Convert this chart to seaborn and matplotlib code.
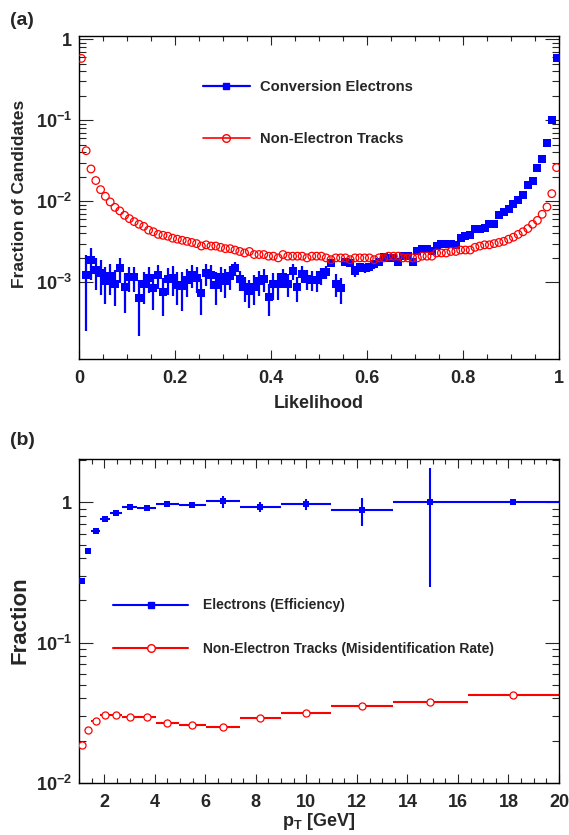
import numpy as np
import matplotlib
matplotlib.use('Agg')
import matplotlib.pyplot as plt
import seaborn as sns
from matplotlib.lines import Line2D
from matplotlib.ticker import FixedLocator, MultipleLocator, FuncFormatter, NullFormatter

# %% data: panel (a), likelihood distribution (100 bins of 0.01)
likelihood_bins = np.arange(100) * 0.01 + 0.005

conv_frac = [
    np.nan, 0.00122, 0.00187, 0.00141, 0.00130, 0.00104, 0.00120, 0.00096, 0.00148, 0.00087,
    0.00116, 0.00116, 0.00064, 0.00094, 0.00113, 0.00085, 0.00122, 0.00076, 0.00109, 0.00113,
    0.00093, 0.00089, 0.00106, 0.00124, 0.00113, 0.00074, 0.00130, 0.00122, 0.00093, 0.00116,
    0.00104, 0.00120, 0.00148, 0.00109, 0.00087, 0.00078, 0.00087, 0.00103, 0.00111, 0.00066,
    0.00096, 0.00096, 0.00116, 0.00096, 0.00137, 0.00087, 0.00128, 0.00111, 0.00108, 0.00106,
    0.00122, 0.00134, 0.00175, 0.00096, 0.00084, 0.00178, 0.00175, 0.00137, 0.00155, 0.00150,
    0.00155, 0.00166, 0.00178, 0.00206, 0.00200, 0.00202, 0.00178, 0.00211, 0.00211, 0.00178,
    0.00241, 0.00260, 0.00260, 0.00240, 0.00280, 0.00300, 0.00300, 0.00300, 0.00290, 0.00350,
    0.00370, 0.00380, 0.00450, 0.00450, 0.00470, 0.00530, 0.00530, 0.00670, 0.00740, 0.00800,
    0.00920, 0.01050, 0.01190, 0.01600, 0.01800, 0.02540, 0.03300, 0.05250, 0.10000, 0.57800,
]
conv_err = [
    np.nan, 0.00097, 0.00080, 0.00060, 0.00060, 0.00050, 0.00050, 0.00045, 0.00050, 0.00045,
    0.00040, 0.00040, 0.00042, 0.00040, 0.00040, 0.00040, 0.00040, 0.00038, 0.00040, 0.00045,
    0.00040, 0.00045, 0.00040, 0.00040, 0.00040, 0.00035, 0.00040, 0.00040, 0.00040, 0.00040,
    0.00040, 0.00040, 0.00030, 0.00030, 0.00030, 0.00030, 0.00035, 0.00035, 0.00035, 0.00028,
    0.00035, 0.00035, 0.00030, 0.00030, 0.00030, 0.00030, 0.00030, 0.00030, 0.00030, 0.00030,
    0.00030, 0.00025, 0.00020, 0.00030, 0.00030, 0.00020, 0.00020, 0.00020, 0.00020, 0.00020,
    0.00020, 0.00020, 0.00020, 0.00020, 0.00020, 0.00020, 0.00020, 0.00020, 0.00020, 0.00020,
    0.00020, 0.00020, 0.00020, 0.00020, 0.00020, 0.00020, 0.00020, 0.00020, 0.00020, 0.00020,
    0.00020, 0.00020, 0.00020, 0.00020, 0.00020, 0.00020, 0.00020, 0.00020, 0.00020, 0.00030,
    0.00030, 0.00030, 0.00030, 0.00040, 0.00040, 0.00050, 0.00060, 0.00070, 0.00100, 0.00300,
]
nonel_frac = [
    0.5780, 0.0420, 0.0250, 0.0180, 0.0139, 0.0115, 0.0098, 0.0084, 0.0076, 0.0067,
    0.0061, 0.0056, 0.0052, 0.0049, 0.0044, 0.0042, 0.0039, 0.0038, 0.0037, 0.0035,
    0.0034, 0.0033, 0.0032, 0.0031, 0.0030, 0.0028, 0.0029, 0.0028, 0.0028, 0.0027,
    0.0026, 0.0026, 0.0025, 0.0024, 0.0023, 0.0024, 0.0022, 0.0022, 0.0022, 0.0021,
    0.0021, 0.0020, 0.0022, 0.0021, 0.0021, 0.0021, 0.0021, 0.0020, 0.0021, 0.0021,
    0.0021, 0.0020, 0.0019, 0.0020, 0.0020, 0.0020, 0.0019, 0.0020, 0.0020, 0.0020,
    0.0020, 0.0019, 0.0020, 0.0020, 0.0021, 0.0021, 0.0021, 0.0020, 0.0020, 0.0020,
    0.0020, 0.0021, 0.0021, 0.0021, 0.0023, 0.0023, 0.0023, 0.0024, 0.0024, 0.0025,
    0.0025, 0.0025, 0.0027, 0.0028, 0.0029, 0.0029, 0.0030, 0.0031, 0.0032, 0.0034,
    0.0036, 0.0039, 0.0042, 0.0046, 0.0052, 0.0058, 0.0069, 0.0085, 0.0124, 0.0260,
]

# %% data: panel (b), fraction vs pT
pt_edges = [1.0, 1.221, 1.491, 1.821, 2.223, 2.715, 3.315, 4.048, 4.943,
            6.036, 7.37, 9.0, 10.99, 13.42, 16.38, 20.0]
eff = [0.276, 0.45, 0.625, 0.764, 0.835, 0.93, 0.92, 0.98, 0.96, 1.02, 0.93, 0.967, 0.88, 1.0, 1.0]
eff_err = [0.01, 0.01, 0.02, 0.03, 0.03, 0.03, 0.03, 0.04, 0.04, 0.10, 0.08, 0.09, 0.20, 0.75, 0.0]
misid = [0.0186, 0.0236, 0.0276, 0.0305, 0.0305, 0.0296, 0.0296, 0.0266, 0.0259, 0.0251,
         0.0289, 0.0313, 0.0353, 0.0375, 0.0421]
misid_err = [0.0004, 0.0004, 0.0004, 0.0004, 0.0004, 0.0004, 0.0004, 0.0004, 0.0004, 0.0004,
             0.0005, 0.0005, 0.0006, 0.0007, 0.0008]

# %% style
sns.set_style('ticks')
plt.rcParams['font.family'] = ['Liberation Sans', 'DejaVu Sans']
plt.rcParams['font.weight'] = 'bold'
plt.rcParams['axes.labelweight'] = 'bold'
plt.rcParams['mathtext.fontset'] = 'custom'
plt.rcParams['mathtext.rm'] = 'Liberation Sans:bold'
plt.rcParams['mathtext.it'] = 'Liberation Sans:bold'
plt.rcParams['mathtext.bf'] = 'Liberation Sans:bold'
plt.rcParams['mathtext.default'] = 'rm'
plt.rcParams['axes.linewidth'] = 1.0
plt.rcParams['axes.edgecolor'] = 'black'

BLUE = '#0000ff'
RED = '#ff0000'


def log_label(v, pos):
    if np.isclose(v, 1.0):
        return '1'
    return r'$10^{%d}$' % round(np.log10(v))


def style_axes(ax, decades):
    ax.set_yscale('log')
    ax.yaxis.set_major_locator(FixedLocator(decades))
    ax.yaxis.set_major_formatter(FuncFormatter(log_label))
    minors = [m * d for d in decades for m in range(2, 10)]
    ax.yaxis.set_minor_locator(FixedLocator(minors))
    ax.yaxis.set_minor_formatter(NullFormatter())
    ax.tick_params(which='both', direction='in', top=True, right=True, labelsize=13, width=0.8)
    ax.tick_params(axis='y', which='major', length=10, pad=5)
    ax.tick_params(axis='y', which='minor', length=5)
    ax.tick_params(axis='x', which='major', length=6.5, pad=8)
    ax.tick_params(axis='x', which='minor', length=3.6)
    for s in ax.spines.values():
        s.set_linewidth(1.0)


fig = plt.figure(figsize=(5.69, 8.35), dpi=100)
ax1 = fig.add_axes([0.1388, 0.570, 0.8436, 0.3868])
ax2 = fig.add_axes([0.1388, 0.0626, 0.8436, 0.3873])

# %% panel (a)
ax1.errorbar(likelihood_bins, conv_frac, yerr=conv_err, fmt='none', ecolor=BLUE,
             elinewidth=1.6, capsize=0, zorder=2)
sns.scatterplot(x=likelihood_bins, y=conv_frac, ax=ax1, marker='s', s=26, color=BLUE,
                edgecolor=BLUE, linewidth=0, zorder=3)
sns.scatterplot(x=likelihood_bins, y=nonel_frac, ax=ax1, marker='o', s=30, facecolors='none',
                edgecolor=RED, linewidth=0.9, zorder=4)

ax1.set_xlim(0, 1)
ax1.set_ylim(1.13e-4, 1.09)
style_axes(ax1, [1e-3, 1e-2, 1e-1, 1.0])
ax1.xaxis.set_major_locator(MultipleLocator(0.2))
ax1.xaxis.set_minor_locator(MultipleLocator(0.05))
ax1.xaxis.set_major_formatter(FuncFormatter(lambda v, p: f'{v:g}'))

ax1.set_xlabel('Likelihood', fontsize=13, va='baseline')
ax1.xaxis.set_label_coords(0.5, -0.152)
ax1.set_ylabel('Fraction of Candidates', fontsize=12.5, va='center')
ax1.yaxis.set_label_coords(-0.123, 0.511)

leg_a = [Line2D([], [], color=BLUE, marker='s', ms=5, lw=1.6),
         Line2D([], [], color=RED, marker='o', mfc='none', mec=RED, ms=5.5, lw=1.2)]
ax1.legend(leg_a, ['Conversion Electrons', 'Non-Electron Tracks'], loc='upper left',
           bbox_to_anchor=(0.258, 0.864), frameon=False, fontsize=10.6, handlelength=3.2,
           handletextpad=0.68, labelspacing=2.58, borderpad=0, borderaxespad=0, numpoints=1)

fig.text(10 / 569, 1 - 25 / 835, '(a)', fontsize=14, fontweight='bold', va='baseline')

# %% panel (b)
lo = np.array(pt_edges[:-1])
hi = np.array(pt_edges[1:])
pt_mid = (lo + hi) / 2
xerr = [pt_mid - lo, hi - pt_mid]

ax2.errorbar(pt_mid, eff, xerr=xerr, yerr=eff_err, fmt='none', ecolor=BLUE,
             elinewidth=1.5, capsize=0, zorder=2)
sns.scatterplot(x=pt_mid, y=eff, ax=ax2, marker='s', s=24, color=BLUE, edgecolor=BLUE,
                linewidth=0, zorder=3)
ax2.errorbar(pt_mid, misid, xerr=xerr, yerr=misid_err, fmt='none', ecolor=RED,
             elinewidth=1.5, capsize=0, zorder=2)
sns.scatterplot(x=pt_mid, y=misid, ax=ax2, marker='o', s=26, facecolors='white',
                edgecolor=RED, linewidth=0.9, zorder=4)

ax2.set_xlim(1, 20)
ax2.set_ylim(0.01, 2.03)
style_axes(ax2, [1e-2, 1e-1, 1.0])
ax2.xaxis.set_major_locator(MultipleLocator(2))
ax2.xaxis.set_minor_locator(MultipleLocator(0.5))
ax2.xaxis.set_major_formatter(FuncFormatter(lambda v, p: f'{v:g}'))

ax2.set_xlabel(r'$p_{T}$ [GeV]', fontsize=13, va='baseline')
ax2.xaxis.set_label_coords(0.5, -0.134)
ax2.set_ylabel('Fraction', fontsize=16, va='center')
ax2.yaxis.set_label_coords(-0.122, 0.503)

leg_b = [Line2D([], [], color=BLUE, marker='s', ms=5, lw=1.5),
         Line2D([], [], color=RED, marker='o', mfc='white', mec=RED, ms=5.5, lw=1.5)]
ax2.legend(leg_b, ['Electrons (Efficiency)', 'Non-Electron Tracks (Misidentification Rate)'],
           loc='upper left', bbox_to_anchor=(0.071, 0.570), frameon=False, fontsize=10,
           handlelength=5.4, handletextpad=1.08, labelspacing=2.15, borderpad=0,
           borderaxespad=0, numpoints=1)

fig.text(10 / 569, 1 - 445 / 835, '(b)', fontsize=14, fontweight='bold', va='baseline')

fig.savefig('out.png', dpi=100)
